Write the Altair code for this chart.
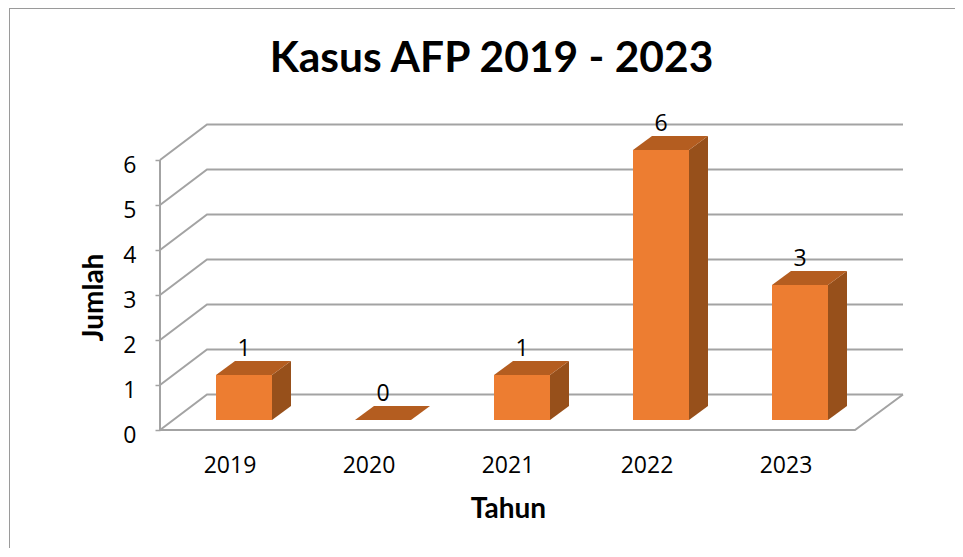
import altair as alt
import pandas as pd

YEARS = ["2019", "2020", "2021", "2022", "2023"]
VALUES = [1, 0, 1, 6, 3]
Y_TICKS = [0, 1, 2, 3, 4, 5, 6]
TITLE = "Kasus AFP 2019 - 2023"
X_TITLE = "Tahun"
Y_TITLE = "Jumlah"

# pixel geometry of the oblique projection
PX_X, PX_Y = 139.0, 45.0          # pixels per category / per unit
W, H = 743, 306
WALL_DX, WALL_DY = 47 / PX_X, 35.5 / PX_Y
BAR_L, BAR_W = 56 / PX_X, 56 / PX_X
BAR_DX, BAR_DY = 19 / PX_X, 14 / PX_Y
BAR_BASE = 10 / PX_Y
PAD_R, PAD_B = 52, 118

GRID = "#a3a3a3"
FRONT, TOP, SIDE = "#ed7d31", "#b45d20", "#97501b"
LABEL_FONT = "Open Sans"
HEAD_FONT = "Lato"

x_scale = alt.Scale(domain=[0, W / PX_X], nice=False, zero=False)
y_scale = alt.Scale(domain=[0, H / PX_Y], nice=False, zero=False)
n = len(YEARS)
xmax = W / PX_X

# ---- frame lines
rows = []
for k in Y_TICKS:
    rows += [
        dict(id=f"g{k}", o=0, x=0, y=k),
        dict(id=f"g{k}", o=1, x=WALL_DX, y=k + WALL_DY),
        dict(id=f"g{k}", o=2, x=xmax, y=k + WALL_DY),
    ]
rows += [dict(id="axis", o=0, x=0, y=0), dict(id="axis", o=1, x=0, y=max(Y_TICKS))]
rows += [
    dict(id="floor", o=0, x=0, y=0),
    dict(id="floor", o=1, x=n, y=0),
    dict(id="floor", o=2, x=xmax, y=WALL_DY),
]
frame = pd.DataFrame(rows)

# ---- bar faces
bars = pd.DataFrame({"year": YEARS, "v": VALUES})
bars["l"] = [i + BAR_L for i in range(n)]
bars["r"] = bars["l"] + BAR_W
bars["b"] = BAR_BASE
bars["t"] = bars["v"] + BAR_BASE
bars["c"] = bars["l"] + BAR_W / 2

side_rows, top_rows = [], []
for _, b in bars.iterrows():
    side_rows += [
        dict(year=b.year, x=b.r, y=b.t, y2=b.b),
        dict(year=b.year, x=b.r + BAR_DX, y=b.t + BAR_DY, y2=b.b + BAR_DY),
    ]
    top_rows += [
        dict(year=b.year, y=b.t, x=b.l, x2=b.r),
        dict(year=b.year, y=b.t + BAR_DY, x=b.l + BAR_DX, x2=b.r + BAR_DX),
    ]
side = pd.DataFrame(side_rows)
top = pd.DataFrame(top_rows)

year_array = "[" + ",".join(f"'{y}'" for y in YEARS) + "]"

axes = alt.Chart(frame).mark_line(color=GRID, strokeWidth=2, strokeJoin="miter").encode(
    x=alt.X(
        "x:Q",
        scale=x_scale,
        axis=alt.Axis(
            values=[i + 0.5 for i in range(n)],
            labelExpr=f"{year_array}[floor(datum.value)]",
            domain=False,
            ticks=False,
            grid=False,
            labelFont=LABEL_FONT,
            labelFontSize=23,
            labelColor="#000000",
            labelPadding=24,
            labelFlush=False,
            labelOverlap=False,
            title=X_TITLE,
            titleFont=HEAD_FONT,
            titleFontSize=28,
            titleFontWeight="bold",
            titleColor="#000000",
            titleX=348,
            titleY=65,
        ),
    ),
    y=alt.Y(
        "y:Q",
        scale=y_scale,
        axis=alt.Axis(
            values=Y_TICKS,
            format="d",
            domain=False,
            grid=False,
            tickSize=5,
            tickColor=GRID,
            tickWidth=1.5,
            labelFont=LABEL_FONT,
            labelFontSize=23,
            labelColor="#000000",
            labelPadding=19,
            labelOffset=5,
            labelFlush=False,
            labelOverlap=False,
            title=Y_TITLE,
            titleFont=HEAD_FONT,
            titleFontSize=28,
            titleFontWeight="bold",
            titleColor="#000000",
            titleX=-52,
            titleY=173,
        ),
    ),
    detail="id:N",
    order="o:Q",
)

side_layer = alt.Chart(side).mark_area(color=SIDE, opacity=1).encode(
    x=alt.X("x:Q", scale=x_scale, axis=None),
    y=alt.Y("y:Q", scale=y_scale, axis=None),
    y2="y2:Q",
    detail="year:N",
)

top_layer = alt.Chart(top).mark_area(color=TOP, opacity=1, orient="horizontal").encode(
    y=alt.Y("y:Q", scale=y_scale, axis=None),
    x=alt.X("x:Q", scale=x_scale, axis=None),
    x2="x2:Q",
    detail="year:N",
)

front_layer = alt.Chart(bars).mark_rect(color=FRONT).encode(
    x=alt.X("l:Q", scale=x_scale, axis=None),
    x2="r:Q",
    y=alt.Y("b:Q", scale=y_scale, axis=None),
    y2="t:Q",
)

text_layer = alt.Chart(bars).mark_text(
    font=LABEL_FONT, fontSize=23, color="#000000", baseline="middle", dy=-26
).encode(
    x=alt.X("c:Q", scale=x_scale, axis=None),
    y=alt.Y("t:Q", scale=y_scale, axis=None),
    text=alt.Text("v:Q", format="d"),
)

border_left = alt.Chart(bars).mark_rule(color="#9a9a9a", strokeWidth=1).encode(
    x=alt.value(-150.5), y=alt.value(-115.5), y2=alt.value(H + PAD_B)
)
border_top = alt.Chart(bars).mark_rule(color="#9a9a9a", strokeWidth=1).encode(
    x=alt.value(-150.5), x2=alt.value(W + PAD_R), y=alt.value(-115.5)
)

chart = alt.layer(
    border_left, border_top, axes, side_layer, top_layer, front_layer, text_layer
).resolve_axis(x="independent", y="independent").properties(
    width=W,
    height=H,
    autosize=alt.AutoSizeParams(type="none"),
    padding={"left": 152, "top": 116, "right": PAD_R, "bottom": PAD_B},
    title=alt.TitleParams(
        TITLE,
        font=HEAD_FONT,
        fontSize=42.5,
        fontWeight="bold",
        color="#000000",
        anchor="middle",
        baseline="alphabetic",
        dx=-40,
        dy=106,
        offset=0,
    ),
).configure_view(stroke=None)

chart.save("out.html", embed_options={"renderer": "svg", "actions": False})
